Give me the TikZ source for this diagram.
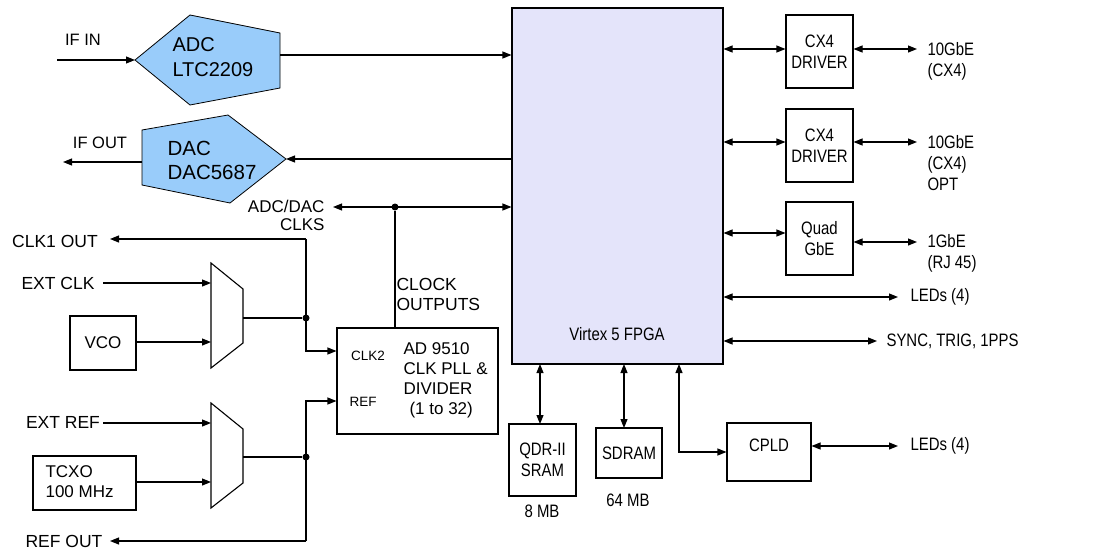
\documentclass[tikz,border=0pt]{standalone}
\usepackage{fontspec}
\setmainfont{Liberation Sans}
\newfontfamily\narrowsans[FakeStretch=0.83]{Liberation Sans}
\usetikzlibrary{arrows.meta}
\definecolor{adcblue}{RGB}{153,204,250}
\definecolor{fpgafill}{RGB}{228,228,250}
\begin{document}
\begin{tikzpicture}[x=1pt,y=-1pt,line width=1.1pt,
  tip/.tip={Triangle[length=9pt,width=7pt]},
  arr/.style={-tip},
  dbl/.style={tip-tip},
  lbl/.style={inner sep=0pt,font=\fontsize{17.5}{20}\selectfont},
  nlbl/.style={inner sep=0pt,font=\narrowsans\fontsize{18}{21}\selectfont},
  rlbl/.style={nlbl,align=left,anchor=west},
  blk/.style={draw,inner sep=0pt,align=center,font=\narrowsans\fontsize{18}{20.5}\selectfont},
  conv/.style={draw,fill=adcblue,line width=0.8pt},
  dot/.style={circle,fill=black,inner sep=0pt,minimum size=7pt}]
\useasboundingbox (0,0) rectangle (1104,552);

% ---- FPGA
\node[blk,fill=fpgafill,minimum width=211pt,minimum height=356pt] (fpga) at (617.5,186) {};
\node[nlbl] (fpgatxt) at (617,334) {Virtex 5 FPGA};

% ---- ADC / DAC converters
\draw[conv] (135,60) -- (190,15) -- (280,33) -- (280,88) -- (190,105) -- cycle;
\draw[conv] (142,130) -- (228,115) -- (286,159) -- (230,203) -- (142,185) -- cycle;
\node[lbl,font=\fontsize{20}{25}\selectfont,align=left,anchor=west] (adc) at (172,57.5) {ADC\\LTC2209};
\node[lbl,font=\fontsize{20.5}{24}\selectfont,align=left,anchor=west] (dac) at (167,160) {DAC\\DAC5687};
\coordinate (adcL) at (135,60);
\coordinate (adcR) at (280,55);
\coordinate (dacT) at (286,159);
\coordinate (dacL) at (142,162);
\coordinate (ifin) at (57,60);
\coordinate (ifout) at (63,162);
\node[lbl,font=\fontsize{16.5}{19}\selectfont] (ifinl) at (83,40) {IF IN};
\node[lbl,font=\fontsize{16.5}{19}\selectfont] (ifoutl) at (100,143) {IF OUT};
\draw[arr] (ifin) -- (adcL);
\draw[arr] (adcR) -- (adcR -| fpga.west);
\draw[arr] (dacT -| fpga.west) -- (dacT);
\draw[arr] (dacL) -- (ifout);

% ---- clock section
\node[blk,minimum width=66pt,minimum height=54pt,font=\fontsize{17}{19}\selectfont] (vco) at (103,343) {VCO};
\node[blk,minimum width=103pt,minimum height=54pt] (tcxo) at (84.5,483) {};
\node[lbl,align=left,anchor=west,font=\fontsize{17}{20}\selectfont] (tcxotxt) at (45,482) {TCXO\\100 MHz};
\node[blk,minimum width=161pt,minimum height=106pt] (pll) at (417.5,381) {};
\node[lbl,font=\fontsize{13.5}{15}\selectfont] (clk2) at (368,356) {CLK2};
\node[lbl,font=\fontsize{13.5}{15}\selectfont] (ref) at (363,402) {REF};
\node[lbl,align=left,anchor=west,font=\fontsize{17}{20}\selectfont] (plltxt) at (403,380.5) {AD 9510\\CLK PLL \&\\DIVIDER\\\hspace*{6pt}(1 to 32)};

% multiplexers
\draw (211,263) -- (243,289) -- (243,343) -- (211,368) -- cycle;
\draw (211,403) -- (243,429) -- (243,483) -- (211,508) -- cycle;
\coordinate (m1a) at (211,283);
\coordinate (m1b) at (211,342);
\coordinate (m1o) at (243,318);
\coordinate (m2a) at (211,423);
\coordinate (m2b) at (211,482);
\coordinate (m2o) at (243,457);

\node[lbl] (extclk) at (58,283) {EXT CLK};
\node[lbl] (extref) at (63,422) {EXT REF};
\node[lbl] (clk1out) at (55,241) {CLK1 OUT};
\node[lbl] (refout) at (64,541) {REF OUT};
\coordinate (extclkE) at (103,283);
\coordinate (extrefE) at (103,423);
\coordinate (clk1tip) at (110,239);
\coordinate (reftip) at (110,541);

\draw[arr] (extclkE) -- (m1a);
\draw[arr] (vco.east |- m1b) -- (m1b);
\draw[arr] (extrefE) -- (m2a);
\draw[arr] (tcxo.east |- m2b) -- (m2b);

\coordinate (j1top) at (306,239);
\node[dot] (d1) at (306,318) {};
\node[dot] (d2) at (306,457) {};
\draw (m1o) -- (d1);
\draw (m2o) -- (d2);
\draw[arr] (j1top) -- (clk1tip);
\draw[arr] (j1top) -- (306,351) -- (pll.west |- 306,351);
\draw[arr] (306,541) -- (reftip);
\draw[arr] (306,541) -- (306,401) -- (pll.west |- 306,401);

% ADC/DAC clocks
\node[lbl,align=right,anchor=east,font=\fontsize{17}{18}\selectfont] (clks) at (325,215) {ADC/DAC\\CLKS};
\coordinate (clkL) at (333,207);
\node[dot] (d3) at (395,207) {};
\draw[dbl] (clkL) -- (clkL -| fpga.west);
\draw (d3) -- (d3 |- pll.north);
\node[lbl,align=left,anchor=west,font=\fontsize{17.5}{20}\selectfont] (clkout) at (396,294) {CLOCK\\OUTPUTS};

% ---- right side
\node[blk,minimum width=67pt,minimum height=73pt] (cx1) at (819.5,51.5) {CX4\\DRIVER};
\node[blk,minimum width=67pt,minimum height=73pt] (cx2) at (819.5,145.5) {CX4\\DRIVER};
\node[blk,minimum width=67pt,minimum height=73pt] (quad) at (819.5,238.5) {Quad\\GbE};
\draw[dbl] (fpga.east |- 0,49) -- (cx1.west |- 0,49);
\draw[dbl] (fpga.east |- 0,142) -- (cx2.west |- 0,142);
\draw[dbl] (fpga.east |- 0,233) -- (quad.west |- 0,233);
\coordinate (o1) at (917,49);
\coordinate (o2) at (917,142);
\coordinate (o3) at (917,242);
\draw[dbl] (cx1.east |- o1) -- (o1);
\draw[dbl] (cx2.east |- o2) -- (o2);
\draw[dbl] (quad.east |- o3) -- (o3);
\node[rlbl] (l1) at (927,61) {10GbE\\(CX4)};
\node[rlbl] (l2) at (927,163) {10GbE\\(CX4)\\OPT};
\node[rlbl] (l3) at (927,253) {1GbE\\(RJ 45)};

\coordinate (led1) at (898,297);
\coordinate (sync) at (877,341);
\draw[dbl] (fpga.east |- led1) -- (led1);
\draw[dbl] (fpga.east |- sync) -- (sync);
\node[rlbl] (led1l) at (910,297) {LEDs (4)};
\node[rlbl] (syncl) at (886,341) {SYNC, TRIG, 1PPS};

% ---- bottom
\node[blk,minimum width=67pt,minimum height=72pt] (qdr) at (542.5,460) {QDR-II\\SRAM};
\node[blk,minimum width=66pt,minimum height=50pt] (sdram) at (629,453) {SDRAM};
\node[blk,minimum width=84pt,minimum height=58pt] (cpld) at (769,452) {};
\node[nlbl] (cpldtxt) at (769,445) {CPLD};
\node[nlbl] (qdrmb) at (542,511) {8 MB};
\node[nlbl] (sdmb) at (628,500) {64 MB};
\draw[dbl] (540,364) -- (540,424);
\draw[dbl] (624,364) -- (624,428);
\draw[dbl] (679,364) |- (cpld.west);
\coordinate (led2) at (898,446);
\draw[dbl] (cpld.east |- led2) -- (led2);
\node[rlbl] (led2l) at (910,446) {LEDs (4)};
\end{tikzpicture}
\end{document}
